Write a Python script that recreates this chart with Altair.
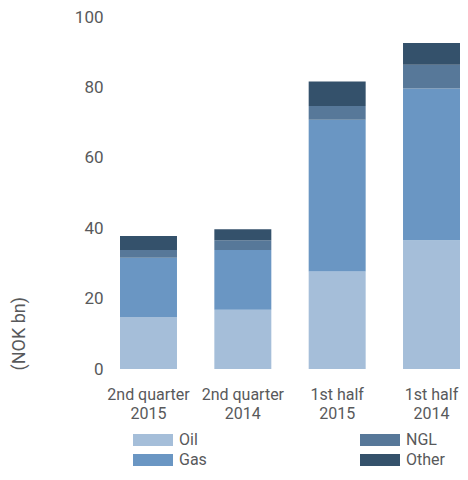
import altair as alt
import pandas as pd

categories = ["2nd quarter\n2015", "2nd quarter\n2014", "1st half\n2015", "1st half\n2014"]
series = ["Oil", "Gas", "NGL", "Other"]
oil = [14.8, 16.8, 27.7, 36.6]
gas = [16.8, 17.0, 43.1, 43.1]
ngl = [2.2, 2.8, 3.9, 6.7]
other = [4.0, 3.1, 7.0, 6.2]
colors = ["#a5bed9", "#6a96c3", "#577899", "#34516b"]
y_ticks = [0, 20, 40, 60, 80, 100]

values = {"Oil": oil, "Gas": gas, "NGL": ngl, "Other": other}
rows = []
for si, s in enumerate(series):
    for ci, c in enumerate(categories):
        rows.append({"period": c, "type": s, "value": values[s][ci], "idx": si})
df = pd.DataFrame(rows)

FONT = "Roboto"
GRAY = "#58595b"

chart = (
    alt.Chart(df)
    .mark_bar()
    .encode(
        x=alt.X(
            "period:N",
            sort=categories,
            scale=alt.Scale(paddingInner=0.396, paddingOuter=0),
            axis=alt.Axis(
                title=None,
                labelAngle=0,
                domain=False,
                ticks=False,
                tickSize=0,
                labelPadding=17,
                labelFontSize=16,
                labelLineHeight=19,
                labelColor=GRAY,
                labelFont=FONT,
                labelExpr="split(datum.label, '\\n')",
            ),
        ),
        y=alt.Y(
            "value:Q",
            stack="zero",
            scale=alt.Scale(domain=[0, 100], nice=False),
            axis=alt.Axis(
                title="(NOK bn)",
                values=y_ticks,
                grid=False,
                domain=False,
                ticks=False,
                tickSize=0,
                labelPadding=17,
                labelFontSize=17,
                labelColor=GRAY,
                labelFont=FONT,
                titleFont=FONT,
                titleFontSize=18,
                titleFontWeight="normal",
                titleColor=GRAY,
                titleAngle=-90,
                titleX=-101,
                titleY=353,
                titleAlign="left",
                titleBaseline="middle",
            ),
        ),
        color=alt.Color(
            "type:N",
            scale=alt.Scale(domain=series, range=colors),
            legend=alt.Legend(
                title=None,
                orient="none",
                legendX=23,
                legendY=413,
                columns=2,
                columnPadding=153,
                rowPadding=2,
                symbolType="M-2,-0.6H2V0.6H-2Z",
                symbolSize=400,
                symbolStrokeWidth=0,
                symbolOpacity=1,
                labelFontSize=16,
                labelFont=FONT,
                labelColor=GRAY,
                labelOffset=16,
            ),
        ),
        order=alt.Order("idx:Q", sort="ascending"),
    )
    .properties(width=340, height=352, padding={"left": 2, "top": 0, "right": 0, "bottom": 0})
    .configure_view(stroke=None)
)

chart.save("out.html", embed_options={"renderer": "svg", "actions": False})
